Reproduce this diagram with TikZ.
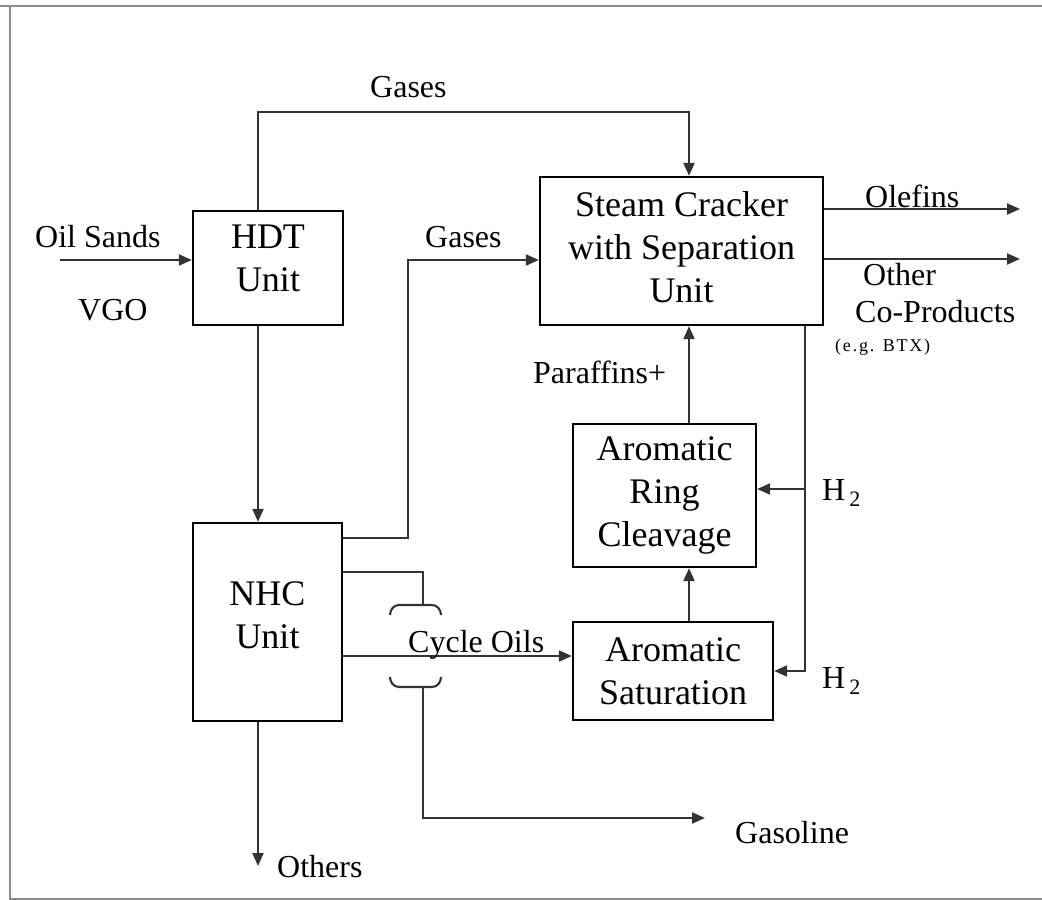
\documentclass[tikz,border=0pt]{standalone}
\usepackage{fontspec}
\setmainfont{Liberation Serif}
\usetikzlibrary{arrows.meta}
\begin{document}
\begin{tikzpicture}[x=1pt,y=-1pt,
  box/.style={draw=black,line width=2.3pt,inner sep=0pt,align=center,
    font=\fontsize{36}{43}\selectfont},
  conn/.style={line width=2.1pt,draw=black!80},
  arr/.style={conn,-{Triangle[length=13pt,width=11pt]}},
  lbl/.style={anchor=base west,inner sep=0pt,font=\fontsize{32}{38}\selectfont},
  framecol/.style={draw=black!45,line width=2.2pt}]
\useasboundingbox (0,0) rectangle (1042,900);
% frame
\draw[framecol] (0,6) -- (1042,6);
\draw[framecol] (10,6) -- (10,899) -- (1042,899);
% boxes
\node[box,minimum width=150,minimum height=114] (hdt) at (268,268) {HDT\\Unit\rule[-19pt]{0pt}{19pt}};
\node[box,minimum width=283,minimum height=148] (sc) at (681.5,251) {Steam Cracker\\with Separation\\Unit\rule[-8pt]{0pt}{8pt}};
\node[box,minimum width=149,minimum height=198] (nhc) at (267.5,622) {NHC\\Unit\rule[-13pt]{0pt}{13pt}};
\node[box,minimum width=183,minimum height=143] (arc) at (664.5,495.5) {Aromatic\\Ring\\Cleavage};
\node[box,minimum width=200,minimum height=98] (as) at (673,671) {Aromatic\\Saturation};
% coordinates
\coordinate (g1) at (258,112);
\coordinate (g2) at (689,112);
\coordinate (oil) at (60,260);
\coordinate (g3) at (408,538);
\coordinate (g4) at (408,260);
\coordinate (b1) at (423,572);
\coordinate (b2) at (423,605);
\coordinate (b3) at (423,687);
\coordinate (b4) at (423,818);
\coordinate (gas) at (705,818);
\coordinate (co) at (0,656);
\coordinate (h1) at (805,489);
\coordinate (h2) at (805,671);
\coordinate (ol) at (1020,209);
\coordinate (ot) at (1020,259);
\coordinate (oth) at (258,866);
% connectors
\draw[arr] (hdt.north -| g1) -- (g1) -- (g2) -- (sc.north -| g2);
\draw[arr] (hdt.south -| g1) -- (nhc.north -| g1);
\draw[arr] (oil) -- (hdt.west |- oil);
\draw[arr] (nhc.east |- g3) -- (g3) -- (g4) -- (sc.west |- g4);
\draw[conn] (nhc.east |- b1) -- (b1) -- (b2);
\draw[conn] (b2) ++(-33,10) to[out=90,in=180] ++(9,-10) -- ++(33,0) to[out=0,in=90] ++(9,10);
\draw[conn] (b3) ++(-33,-10) to[out=-90,in=180] ++(9,10) -- ++(33,0) to[out=0,in=-90] ++(9,-10);
\draw[arr] (b3) -- (b4) -- (gas);
\draw[arr] (nhc.east |- co) -- (as.west |- co);
\draw[arr] (as.north -| g2) -- (arc.south -| g2);
\draw[arr] (arc.north -| g2) -- (sc.south -| g2);
\draw[arr] (sc.south -| h1) -- (h2) -- (as.east |- h2);
\draw[arr] (h1) -- (arc.east |- h1);
\draw[arr] (sc.east |- ol) -- (ol);
\draw[arr] (sc.east |- ot) -- (ot);
\draw[arr] (nhc.south -| oth) -- (oth);
% labels
\node[lbl] (lgas1) at (370,97) {Gases};
\node[lbl] (lgas2) at (425,247) {Gases};
\node[lbl] (loil) at (35,247) {Oil Sands};
\node[lbl] (lvgo) at (78,320) {VGO};
\node[lbl] (lole) at (865,207) {Olefins};
\node[lbl] (loth) at (863,285) {Other};
\node[lbl] (lcop) at (855,322) {Co-Products};
\node[lbl,font=\fontsize{18}{20}\selectfont\addfontfeature{LetterSpace=10}] (lbtx) at (835,351) {(e.g. BTX)};
\node[lbl] (lpar) at (533,383) {Paraffins+};
\node[lbl] (lcyc) at (408,652) {Cycle Oils};
\node[lbl] (lh1) at (822,500) {H\kern4pt\raisebox{-6pt}{\fontsize{22}{22}\selectfont 2}};
\node[lbl] (lh2) at (822,688) {H\kern4pt\raisebox{-6pt}{\fontsize{22}{22}\selectfont 2}};
\node[lbl] (lgasl) at (735,843) {Gasoline};
\node[lbl] (lothers) at (277,877) {Others};
\end{tikzpicture}
\end{document}
